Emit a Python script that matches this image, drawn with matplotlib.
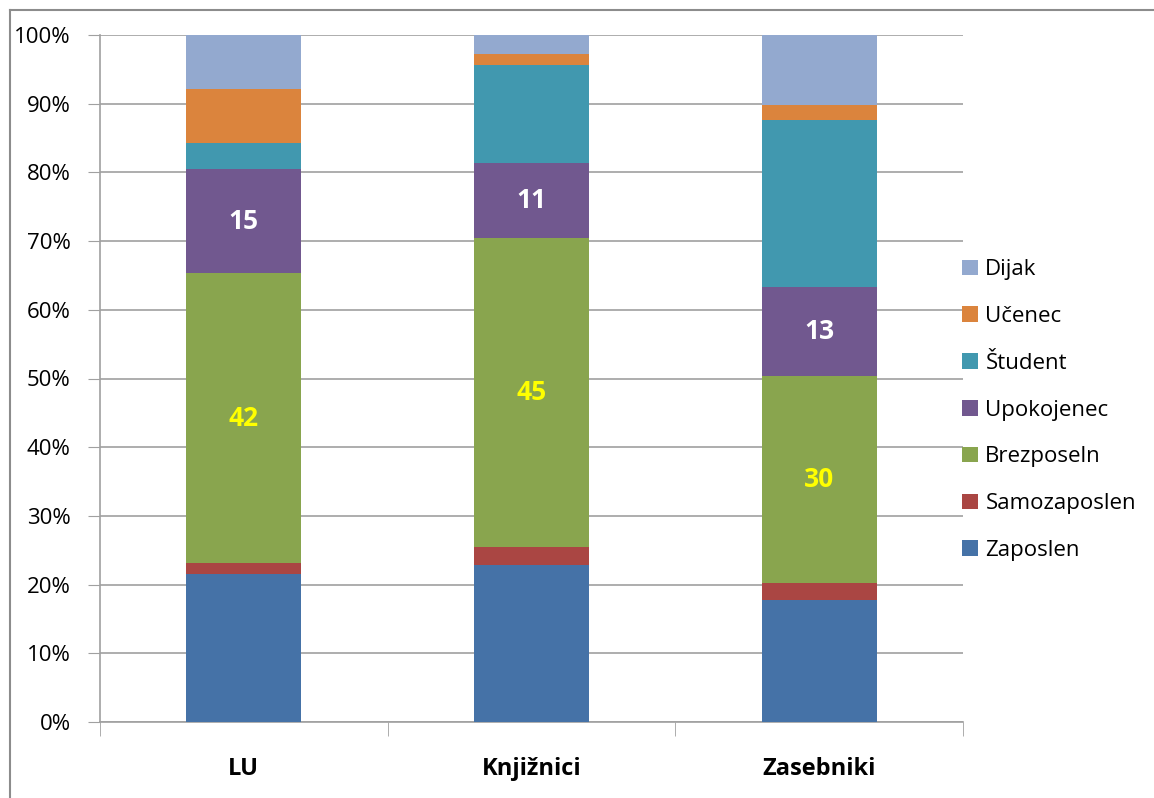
import numpy as np
import matplotlib
matplotlib.use('Agg')
import matplotlib.pyplot as plt
from matplotlib.lines import Line2D
from matplotlib.ticker import FixedLocator, NullFormatter

plt.rcParams['font.family'] = ['Open Sans', 'DejaVu Sans']

categories = ['LU', 'Knjižnici', 'Zasebniki']
series = ['Zaposlen', 'Samozaposlen', 'Brezposeln', 'Upokojenec', 'Študent', 'Učenec', 'Dijak']
# percentages per category (bottom to top)
zaposlen = [21.5, 22.9, 17.8]
samozaposlen = [1.7, 2.6, 2.5]
brezposeln = [42.1, 45.0, 30.1]
upokojenec = [15.2, 10.8, 12.9]
student = [3.8, 14.3, 24.4]
ucenec = [7.9, 1.7, 2.1]
dijak = [7.8, 2.7, 10.2]
labels_brezposeln = ['42', '45', '30']
labels_upokojenec = ['15', '11', '13']

colors = ['#4572A7', '#AA4643', '#89A54E', '#71588F', '#4198AF', '#DB843D', '#93A9CF']
values = [zaposlen, samozaposlen, brezposeln, upokojenec, student, ucenec, dijak]

fig = plt.figure(figsize=(11.54, 7.98), dpi=100)
ax = fig.add_axes([100 / 1154, 1 - 722 / 798, 863 / 1154, 687 / 798])

x = np.arange(len(categories))
bottom = np.zeros(len(categories))
bars = []
for name, vals, col in zip(series, values, colors):
    b = ax.bar(x, vals, 0.4, bottom=bottom, color=col, label=name, zorder=3)
    bars.append(b)
    bottom += np.array(vals)

# data labels
bz_bottom = np.array(zaposlen) + np.array(samozaposlen)
for i in range(len(categories)):
    ax.text(x[i], bz_bottom[i] + brezposeln[i] / 2, labels_brezposeln[i], ha='center', va='center',
            color='#FFFF00', fontsize=19, fontweight='bold', zorder=4)
    up_bottom = bz_bottom[i] + brezposeln[i]
    ax.text(x[i], up_bottom + upokojenec[i] / 2, labels_upokojenec[i], ha='center', va='center',
            color='white', fontsize=19, fontweight='bold', zorder=4)

ax.set_xlim(-0.5, 2.5)
ax.set_ylim(0, 100)
ax.set_yticks(np.arange(0, 101, 10))
ax.set_yticklabels(['%d%%' % v for v in range(0, 101, 10)], fontsize=16)
ax.yaxis.grid(True, color='#a0a0a0', linewidth=1.2, zorder=0)
ax.set_xticks(x)
ax.set_xticklabels(categories, fontsize=17, fontweight='bold')
ax.tick_params(axis='x', length=0, pad=25)
ax.xaxis.set_minor_locator(FixedLocator([-0.5, 0.5, 1.5, 2.5]))
ax.xaxis.set_minor_formatter(NullFormatter())
ax.tick_params(axis='x', which='minor', length=10, color='#a0a0a0', direction='out')
ax.tick_params(axis='y', length=9, color='#a0a0a0', direction='out', pad=12)
for s in ['top', 'right']:
    ax.spines[s].set_visible(False)
for s in ['left', 'bottom']:
    ax.spines[s].set_color('#a0a0a0')
    ax.spines[s].set_linewidth(1.2)

handles = [bars[i] for i in range(len(series) - 1, -1, -1)]
fig.legend(handles, [series[i] for i in range(len(series) - 1, -1, -1)],
           loc='center left', bbox_to_anchor=(942 / 1154, 1 - 410 / 798), frameon=False,
           fontsize=16, handlelength=0.7, handleheight=0.7, handletextpad=0.35,
           labelspacing=1.16)

# outer chart border
fig.add_artist(Line2D([10 / 1154, 10 / 1154], [0, 1 - 10 / 798], transform=fig.transFigure,
                      color='#8c8c8c', linewidth=1.5))
fig.add_artist(Line2D([10 / 1154, 1], [1 - 10 / 798, 1 - 10 / 798], transform=fig.transFigure,
                      color='#8c8c8c', linewidth=1.5))

fig.savefig('out.png', dpi=100)
